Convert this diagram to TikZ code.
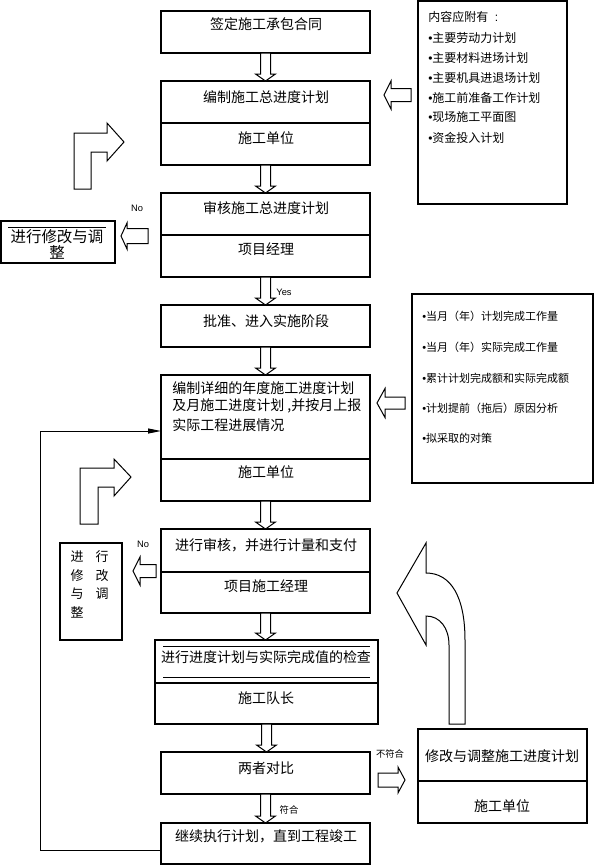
\documentclass[tikz,border=0pt]{standalone}
\usepackage{fontspec}
\setmainfont{Noto Sans CJK SC}
\newfontfamily\latinfont{Liberation Sans}
\newcommand{\bul}{{\latinfont •}}
\usetikzlibrary{fit,calc,arrows.meta}
\newcommand{\blockdown}[2]{%
  \draw[blk] let \p1=(#1.south), \p2=(#2.north) in
    (\x1-3.75pt,\y1) -- (\x1+3.75pt,\y1) -- (\x1+3.75pt,\y2+5.25pt) -- (\x1+7.5pt,\y2+5.25pt)
    -- (\x1,\y2) -- (\x1-7.5pt,\y2+5.25pt) -- (\x1-3.75pt,\y2+5.25pt) -- cycle;}
\newcommand{\sidearrow}[6]{%
  \draw[blk] (#1,#4) -- (#2,#4-#6) -- (#2,#4-#5) -- (#3,#4-#5) -- (#3,#4+#5)
    -- (#2,#4+#5) -- (#2,#4+#6) -- cycle;}
\begin{document}
\begin{tikzpicture}[x=0.75pt,y=-0.75pt,
  box/.style={draw, line width=0.8pt, inner sep=0pt, outer sep=0pt},
  blk/.style={draw, line width=0.75pt, fill=white, line join=miter},
  tmain/.style={font=\fontsize{10.5pt}{13pt}\selectfont, inner sep=0pt},
  tbig/.style={font=\fontsize{11.6pt}{13pt}\selectfont, inner sep=0pt},
  tmid/.style={font=\fontsize{9.75pt}{12pt}\selectfont, inner sep=0pt},
  tlist/.style={font=\fontsize{9pt}{11pt}\selectfont, inner sep=0pt, anchor=west},
  tlist2/.style={font=\fontsize{8.25pt}{10pt}\selectfont, inner sep=0pt, anchor=west},
  tlab/.style={font=\fontsize{7pt}{8pt}\selectfont, inner sep=0pt},
  tyn/.style={font=\latinfont\fontsize{7pt}{8pt}\selectfont, inner sep=0pt},
  thin/.style={line width=0.6pt}
]
\useasboundingbox (0,0) rectangle (594,865);

% main column boxes
\node[box, fit={(161,11) (370,53)}] (b1) {};
\node[box, fit={(161,81) (370,123)}] (b2a) {};
\node[box, fit={(161,123) (370,165)}] (b2b) {};
\node[box, fit={(161,193) (370,235)}] (b3a) {};
\node[box, fit={(161,235) (370,277)}] (b3b) {};
\node[box, fit={(161,305) (370,347)}] (b4) {};
\node[box, fit={(161,375) (370,459)}] (b5a) {};
\node[box, fit={(161,459) (370,501)}] (b5b) {};
\node[box, fit={(161,529) (370,572)}] (b6a) {};
\node[box, fit={(161,572) (370,613)}] (b6b) {};
\node[box, fit={(155,640) (378,683)}] (b7a) {};
\node[box, fit={(155,683) (378,724)}] (b7b) {};
\node[box, fit={(161,752) (370,794)}] (b8) {};
\node[box, fit={(161,823) (370,864)}] (b9) {};

% side boxes
\node[box, fit={(418,1) (567,204)}] (r1) {};
\node[box, fit={(412,294) (593,483)}] (r2) {};
\node[box, fit={(418,729) (587,781)}] (r3a) {};
\node[box, fit={(418,781) (587,823)}] (r3b) {};
\node[box, fit={(1,221) (115,263)}] (l1) {};
\node[box, fit={(60,543) (122,640)}] (l2) {};

% inner lines
\draw[thin] (163,646) -- (370,646);
\draw[thin] (163,677) -- (370,677);
\draw[thin] (8,227) -- (106,227);

% texts in main column
\node[tmain] (t1) at (266,24) {签定施工承包合同};
\node[tmain] (t2a) at (266,97) {编制施工总进度计划};
\node[tmain] (t2b) at (266,138) {施工单位};
\node[tmain] (t3a) at (266,208) {审核施工总进度计划};
\node[tmain] (t3b) at (266,249) {项目经理};
\node[tmain] (t4) at (266,321) {批准、进入实施阶段};
\node[tmain, anchor=west] (t5a1) at (172,388) {编制详细的年度施工进度计划};
\node[tmain, anchor=west] (t5a2) at (172,406) {及月施工进度计划 ,并按月上报};
\node[tmain, anchor=west] (t5a3) at (172,425) {实际工程进展情况};
\node[tmain] (t5b) at (266,472) {施工单位};
\node[tmain] (t6a) at (266,545) {进行审核，并进行计量和支付};
\node[tmain] (t6b) at (266,586) {项目施工经理};
\node[tmain] (t7a) at (266,657) {进行进度计划与实际完成值的检查};
\node[tmain] (t7b) at (266,698) {施工队长};
\node[tmain] (t8) at (266,768) {两者对比};
\node[tmain] (t9) at (266,836) {继续执行计划，直到工程竣工};
\node[tmain] (tr3a) at (502,756) {修改与调整施工进度计划};
\node[tmain] (tr3b) at (502,806) {施工单位};

% left boxes texts
\node[tbig] (tl1a) at (57,237) {进行修改与调};
\node[tbig] (tl1b) at (57,252) {整};
\node[tmid] (tl2a) at (77,557) {进};
\node[tmid] (tl2b) at (102,557) {行};
\node[tmid] (tl2c) at (77,576) {修};
\node[tmid] (tl2d) at (102,576) {改};
\node[tmid] (tl2e) at (77,594) {与};
\node[tmid] (tl2f) at (102,594) {调};
\node[tmid] (tl2g) at (77,612) {整};

% right box 1 list
\node[tlist] (r1t0) at (428,17) {内容应附有\hspace{5pt}{\latinfont :}};
\node[tlist] (r1t1) at (428,38) {\bul 主要劳动力计划};
\node[tlist] (r1t2) at (428,58) {\bul 主要材料进场计划};
\node[tlist] (r1t3) at (428,78) {\bul 主要机具进退场计划};
\node[tlist] (r1t4) at (428,98) {\bul 施工前准备工作计划};
\node[tlist] (r1t5) at (428,117) {\bul 现场施工平面图};
\node[tlist] (r1t6) at (428,138) {\bul 资金投入计划};

% right box 2 list
\node[tlist2] (r2t1) at (422,316) {\bul 当月（年）计划完成工作量};
\node[tlist2] (r2t2) at (422,347) {\bul 当月（年）实际完成工作量};
\node[tlist2] (r2t3) at (422,378) {\bul 累计计划完成额和实际完成额};
\node[tlist2] (r2t4) at (422,408) {\bul 计划提前（拖后）原因分析};
\node[tlist2] (r2t5) at (422,438) {\bul 拟采取的对策};

% down block arrows
\blockdown{b1}{b2a}
\blockdown{b2b}{b3a}
\blockdown{b3b}{b4}
\blockdown{b4}{b5a}
\blockdown{b5b}{b6a}
\blockdown{b6b}{b7a}
\blockdown{b7b}{b8}
\blockdown{b8}{b9}

% side block arrows: tip, head base, tail, y, shaft half, head half
\sidearrow{384}{391}{411}{95}{6.5}{14}
\sidearrow{121}{127}{148}{236}{7.5}{13}
\sidearrow{377}{385}{405}{403}{6}{14.5}
\sidearrow{133}{140}{156}{571}{6.5}{14}
\sidearrow{405}{398}{378}{780}{7}{13}

% bent arrows
\draw[blk] (74,189) -- (74,133) -- (107,133) -- (107,123) -- (124,142) -- (107,161)
  -- (107,152) -- (91,152) -- (91,189) -- cycle;
\draw[blk] (80,524) -- (80,468) -- (114,468) -- (114,459) -- (131,477) -- (114,496)
  -- (114,487) -- (98,487) -- (98,524) -- cycle;

% curved arrow
\draw[blk] (449,724) -- (465,724) -- (465,640) .. controls (465,597) and (451,573) .. (426,573)
  -- (426,543) -- (397,593) -- (426,645) -- (426,616)
  .. controls (440,616) and (449,628) .. (449,645) -- cycle;

% feedback line
\coordinate (fbA) at (40,850);
\coordinate (fbB) at (40,431);
\draw[line width=0.75pt, -{Triangle[length=9.75pt,width=3.75pt]}]
  (b9.west |- fbA) -- (fbA) -- (fbB) -- (b5a.west |- fbB);

% labels
\node[tyn] (lyes) at (284,292) {Yes};
\node[tyn] (lno1) at (137,208) {No};
\node[tyn] (lno2) at (143,544) {No};
\node[tlab] (lbf) at (390,754) {不符合};
\node[tlab] (lfh) at (289,810) {符合};
\end{tikzpicture}
\end{document}
